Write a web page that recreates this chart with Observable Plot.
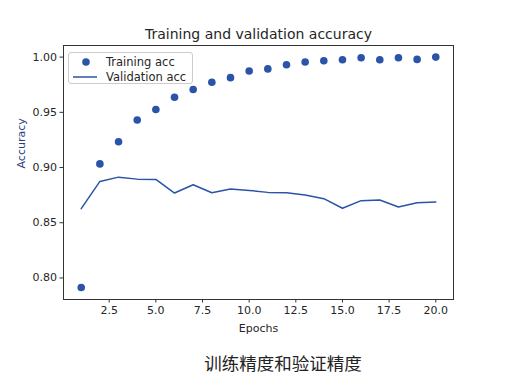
<!DOCTYPE html>
<html>
<head>
<meta charset="utf-8">
<script src="https://cdn.jsdelivr.net/npm/d3@7"></script>
<script src="https://cdn.jsdelivr.net/npm/@observablehq/plot@0.6"></script>
<style>
  html, body { margin: 0; padding: 0; background: #fff; }
  #wrap { position: relative; width: 532px; height: 388px; font-family: "DejaVu Sans", sans-serif; }
  #title { position: absolute; left: 0; width: 517px; top: 27px; line-height: 14px; text-align: center; font-size: 14px; color: #262626; }
  #caption { position: absolute; left: 0; width: 566px; top: 350px; text-align: center; font-size: 17.5px; color: #222; font-family: "Noto Sans CJK SC", sans-serif; }
  #legend { position: absolute; left: 68px; top: 52px; width: 123px; height: 30px; border: 1px solid #ccc; border-radius: 3px; background: #fff; font-size: 11.5px; color: #262626; }
  .item { position: absolute; left: 0; height: 15px; display: flex; align-items: center; }
  .item svg { margin-left: 4px; margin-right: 9px; }
</style>
</head>
<body>
<div id="wrap">
  <div id="chart"></div>
  <div id="title"></div>
  <div id="legend"></div>
  <div id="caption"></div>
</div>
<script>
const titleText = "Training and validation accuracy";
const captionText = "训练精度和验证精度";
const xLabel = "Epochs";
const yLabel = "Accuracy";
const seriesNames = ["Training acc", "Validation acc"];
const epochs = [1,2,3,4,5,6,7,8,9,10,11,12,13,14,15,16,17,18,19,20];
const trainingAcc = [0.7914,0.9033,0.9234,0.9430,0.9526,0.9637,0.9706,0.9772,0.9814,0.9874,0.9893,0.9931,0.9955,0.9967,0.9976,0.9994,0.9976,0.9994,0.9979,1.0000];
const validationAcc = [0.8628,0.8874,0.8913,0.8895,0.8892,0.8769,0.8844,0.8772,0.8805,0.8793,0.8775,0.8772,0.8751,0.8718,0.8631,0.8700,0.8706,0.8643,0.8682,0.8688];
const xTicks = [2.5,5,7.5,10,12.5,15,17.5,20];
const yTicks = [0.80,0.85,0.90,0.95,1.00];

const color = "#2b53a7";
const train = epochs.map((e,i)=>({epoch:e, acc:trainingAcc[i]}));
const val = epochs.map((e,i)=>({epoch:e, acc:validationAcc[i]}));

const chart = Plot.plot({
  width: 532, height: 388,
  marginTop: 45, marginBottom: 89, marginLeft: 63, marginRight: 79,
  style: {fontFamily: "DejaVu Sans, sans-serif", fontSize: "11px", color: "#262626", background: "#fff"},
  x: {domain: [0.05, 20.95]},
  y: {domain: [0.7805, 1.0105]},
  marks: [
    Plot.line(val, {x: "epoch", y: "acc", stroke: color, strokeWidth: 1.5}),
    Plot.dot(train, {x: "epoch", y: "acc", fill: color, r: 3.8}),
    Plot.frame({stroke: "#333", strokeWidth: 1}),
    Plot.axisX({ticks: xTicks, tickFormat: d => d.toFixed(1), tickSize: 3.5, tickPadding: 3, label: xLabel, labelAnchor: "center", labelArrow: "none", labelOffset: 32, stroke: "#333"}),
    Plot.axisY({ticks: yTicks, tickFormat: d => d.toFixed(2), tickSize: 3.5, tickPadding: 3, label: null, stroke: "#333"}),
    Plot.text([yLabel], {frameAnchor: "left", rotate: -90, dx: -42, dy: -4, fill: "#2b3e7e", fontSize: 11})
  ]
});
document.getElementById("chart").appendChild(chart);
document.getElementById("title").textContent = titleText;
document.getElementById("caption").textContent = captionText;

const legend = document.getElementById("legend");
const mk = (i, glyph) => {
  const d = document.createElement("div");
  d.className = "item";
  d.style.top = (i * 15 + 1) + "px";
  d.innerHTML = `<svg width="24" height="10">${glyph}</svg>`;
  const s = document.createElement("span");
  s.textContent = seriesNames[i];
  d.appendChild(s);
  legend.appendChild(d);
};
mk(0, `<circle cx="13" cy="5" r="3.8" fill="${color}"/>`);
mk(1, `<line x1="0" x2="24" y1="5" y2="5" stroke="${color}" stroke-width="1.5"/>`);
</script>
</body>
</html>
